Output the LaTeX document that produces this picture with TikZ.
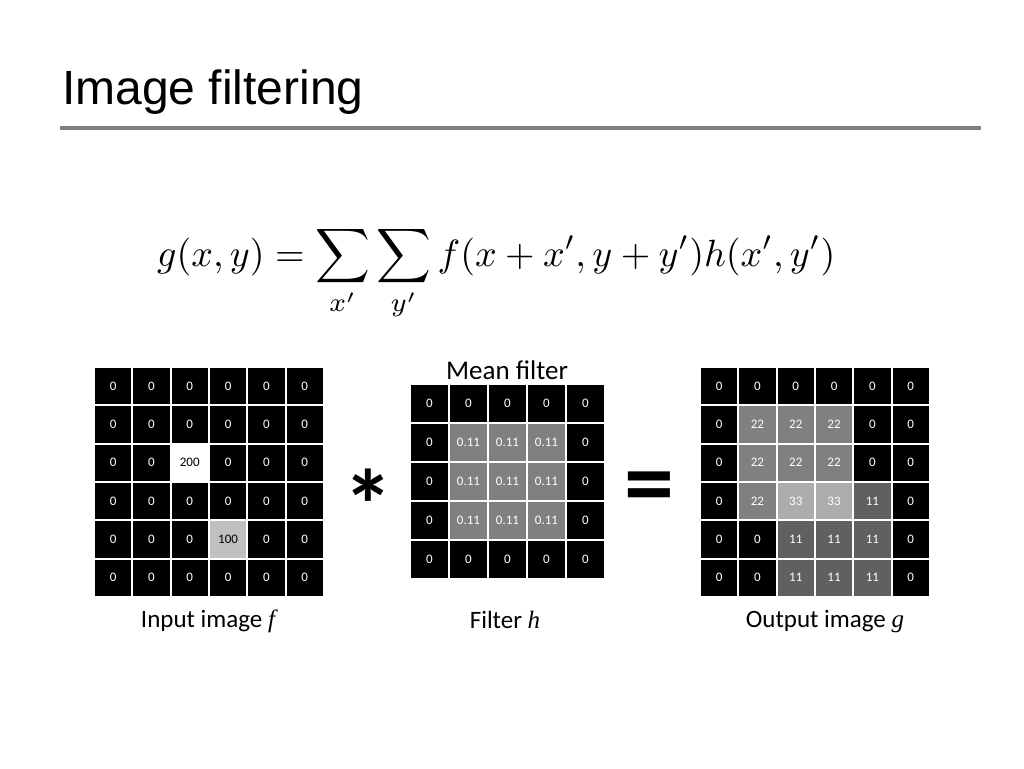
\documentclass[tikz,border=0pt]{standalone}
\usepackage{fontspec}
\setmainfont{Carlito}
\newfontfamily\titlefont{Liberation Sans}
\newfontfamily\timesrm{Liberation Serif}
\usepackage{amsmath}
\usepackage{graphicx}
\definecolor{gA}{RGB}{192,192,192}
\definecolor{gF}{RGB}{128,128,128}
\definecolor{g22}{RGB}{128,128,128}
\definecolor{g33}{RGB}{172,172,172}
\definecolor{g11}{RGB}{96,96,96}
\definecolor{rulegray}{RGB}{128,128,128}
\begin{document}
\begin{tikzpicture}[x=1pt,y=-1pt,
  cellbase/.style={inner sep=0pt, minimum width=36.3pt, minimum height=36.3pt, font=\fontsize{13}{13}\selectfont},
  cellk/.style={cellbase, fill=black, text=white},
  cellw/.style={cellbase, fill=white, text=black},
  cellgA/.style={cellbase, fill=gA, text=black},
  cellgF/.style={cellbase, fill=gF, text=white},
  cellg22/.style={cellbase, fill=g22, text=white},
  cellg33/.style={cellbase, fill=g33, text=white},
  cellg11/.style={cellbase, fill=g11, text=white},
  labeltext/.style={inner sep=0pt, anchor=base, font=\fontsize{25}{25}\selectfont},
  opsym/.style={inner sep=0pt, font=\fontsize{100}{100}\selectfont\bfseries}
]
\useasboundingbox (0,0) rectangle (1024,768);
% title
\node[inner sep=0pt, anchor=base west, font=\titlefont\fontsize{48}{48}\selectfont] (title) at (62,104) {Image filtering};
\coordinate (ruleL) at (60,127.5);
\coordinate (ruleR) at (981,127.5);
\draw[rulegray, line width=4pt] (ruleL) -- (ruleR);
% equation
\node[inner sep=0pt, anchor=base west] (eq) at (157,266) {\resizebox{678pt}{!}{$\displaystyle g(x,y)=\sum_{x'}\sum_{y'} f(x+x',y+y')h(x',y')$}};
% input grid
\foreach \rowlist [count=\r from 0] in {
  {0/cellk,0/cellk,0/cellk,0/cellk,0/cellk,0/cellk},
  {0/cellk,0/cellk,0/cellk,0/cellk,0/cellk,0/cellk},
  {0/cellk,0/cellk,200/cellw,0/cellk,0/cellk,0/cellk},
  {0/cellk,0/cellk,0/cellk,0/cellk,0/cellk,0/cellk},
  {0/cellk,0/cellk,0/cellk,100/cellgA,0/cellk,0/cellk},
  {0/cellk,0/cellk,0/cellk,0/cellk,0/cellk,0/cellk}}{
  \foreach \v/\s [count=\c from 0] in \rowlist {
    \node[\s] (in-\r-\c) at ({94+19.15+\c*38.3},{367+19.15+\r*38.3}) {\v};
  }
}
% filter grid
\foreach \rowlist [count=\r from 0] in {
  {0/cellk,0/cellk,0/cellk,0/cellk,0/cellk},
  {0/cellk,0.11/cellgF,0.11/cellgF,0.11/cellgF,0/cellk},
  {0/cellk,0.11/cellgF,0.11/cellgF,0.11/cellgF,0/cellk},
  {0/cellk,0.11/cellgF,0.11/cellgF,0.11/cellgF,0/cellk},
  {0/cellk,0/cellk,0/cellk,0/cellk,0/cellk}}{
  \foreach \v/\s [count=\c from 0] in \rowlist {
    \node[\s, minimum width=37pt, minimum height=37pt] (fl-\r-\c) at ({410+19.5+\c*39},{384+19.5+\r*39}) {\v};
  }
}
% output grid
\foreach \rowlist [count=\r from 0] in {
  {0/cellk,0/cellk,0/cellk,0/cellk,0/cellk,0/cellk},
  {0/cellk,22/cellg22,22/cellg22,22/cellg22,0/cellk,0/cellk},
  {0/cellk,22/cellg22,22/cellg22,22/cellg22,0/cellk,0/cellk},
  {0/cellk,22/cellg22,33/cellg33,33/cellg33,11/cellg11,0/cellk},
  {0/cellk,0/cellk,11/cellg11,11/cellg11,11/cellg11,0/cellk},
  {0/cellk,0/cellk,11/cellg11,11/cellg11,11/cellg11,0/cellk}}{
  \foreach \v/\s [count=\c from 0] in \rowlist {
    \node[\s] (out-\r-\c) at ({700+19.15+\c*38.3},{367+19.15+\r*38.3}) {\v};
  }
}
% operators
\node[opsym] (star) at (368,505) {*};
\node[opsym] (eqsign) at (649,494) {=};
% labels
\node[labeltext, font=\fontsize{27}{27}\selectfont] (meanlbl) at (507,379) {Mean filter};
\node[labeltext] (inlbl) at (208,627) {Input image {\timesrm\itshape f}};
\node[labeltext] (fllbl) at (505,628) {Filter {\timesrm\itshape h}};
\node[labeltext] (outlbl) at (825,627) {Output image {\timesrm\itshape g}};
\end{tikzpicture}
\end{document}
